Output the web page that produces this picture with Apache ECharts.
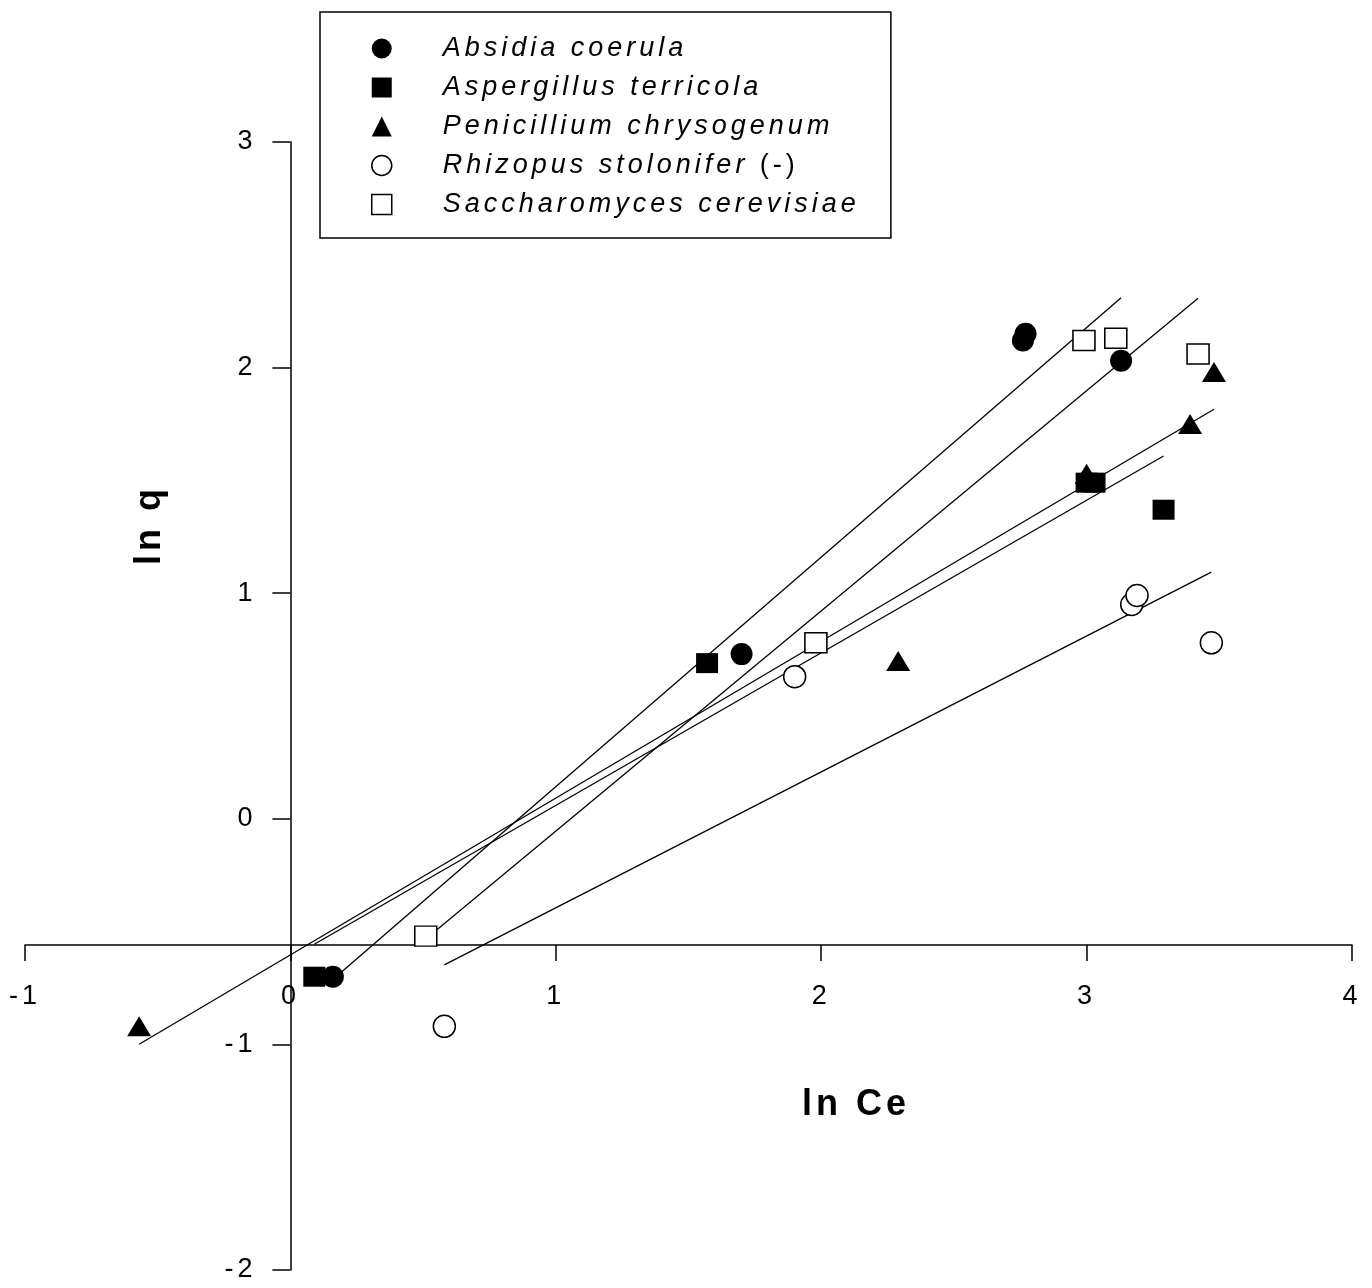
<!DOCTYPE html>
<html>
<head>
<meta charset="utf-8">
<title>ln q vs ln Ce</title>
<script src="https://cdn.jsdelivr.net/npm/echarts@6.0.0/dist/echarts.min.js"></script>
<style>
  html, body { margin: 0; padding: 0; background: #fff; }
  #chart { width: 1372px; height: 1288px; }
</style>
</head>
<body>
<div id="chart"></div>
<script>
// ---- data: ln Ce (x) and ln q (y) for each organism ----
const speciesNames = [
  'Absidia coerula',
  'Aspergillus terricola',
  'Penicillium chrysogenum',
  'Rhizopus stolonifer (-)',
  'Saccharomyces cerevisiae'
];

const absidiaLnCe = [0.16, 1.70, 2.76, 2.77, 3.13];
const absidiaLnQ  = [-0.70, 0.73, 2.12, 2.15, 2.03];

const aspergillusLnCe = [0.09, 1.57, 3.00, 3.03, 3.29];
const aspergillusLnQ  = [-0.70, 0.69, 1.49, 1.49, 1.37];

const penicilliumLnCe = [-0.57, 2.29, 3.00, 3.39, 3.48];
const penicilliumLnQ  = [-0.92, 0.70, 1.53, 1.75, 1.98];

const rhizopusLnCe = [0.58, 1.90, 3.17, 3.19, 3.47];
const rhizopusLnQ  = [-0.92, 0.63, 0.95, 0.99, 0.78];

const saccharomycesLnCe = [0.51, 1.98, 2.99, 3.11, 3.42];
const saccharomycesLnQ  = [-0.52, 0.78, 2.12, 2.13, 2.06];

const xTicks = [-1, 0, 1, 2, 3, 4];
const yTicks = [-2, -1, 0, 1, 2, 3];

// ---- appearance ----
const FONT = "'Liberation Sans', Arial, Helvetica, sans-serif";
const TEXT_TRACKING = '4px';

// Wide tracking for every piece of chart text (applied whenever a font is set on a canvas).
(function () {
  if (!window.CanvasRenderingContext2D) return;
  const proto = CanvasRenderingContext2D.prototype;
  const fontDesc = Object.getOwnPropertyDescriptor(proto, 'font');
  if (!fontDesc || !('letterSpacing' in proto)) return;
  Object.defineProperty(proto, 'font', {
    configurable: true,
    enumerable: fontDesc.enumerable,
    get: function () { return fontDesc.get.call(this); },
    set: function (v) { fontDesc.set.call(this, v); this.letterSpacing = TEXT_TRACKING; }
  });
})();

// Least-squares line over the x-range of a data set
function fitSegment(xs, ys) {
  const n = xs.length;
  const mx = xs.reduce((a, b) => a + b, 0) / n;
  const my = ys.reduce((a, b) => a + b, 0) / n;
  let sxx = 0, sxy = 0;
  for (let i = 0; i < n; i++) {
    sxx += (xs[i] - mx) * (xs[i] - mx);
    sxy += (xs[i] - mx) * (ys[i] - my);
  }
  const slope = sxy / sxx;
  const icpt = my - slope * mx;
  const x0 = Math.min.apply(null, xs), x1 = Math.max.apply(null, xs);
  return [[x0, icpt + slope * x0], [x1, icpt + slope * x1]];
}

const groups = [
  { name: speciesNames[0], xs: absidiaLnCe, ys: absidiaLnQ, symbol: 'circle', size: 22, filled: true },
  { name: speciesNames[1], xs: aspergillusLnCe, ys: aspergillusLnQ, symbol: 'rect', size: [22, 20], filled: true },
  { name: speciesNames[2], xs: penicilliumLnCe, ys: penicilliumLnQ, symbol: 'triangle', size: [24, 20], filled: true },
  { name: speciesNames[3], xs: rhizopusLnCe, ys: rhizopusLnQ, symbol: 'circle', size: 22, filled: false },
  { name: speciesNames[4], xs: saccharomycesLnCe, ys: saccharomycesLnQ, symbol: 'rect', size: [22, 20], filled: false }
];

const filledStyle = { color: '#000', borderWidth: 0, opacity: 1 };
const hollowStyle = { color: '#fff', borderColor: '#000', borderWidth: 1.5, opacity: 1 };

const series = [];
groups.forEach(g => {
  series.push({
    type: 'line',
    name: g.name + ' fit',
    xAxisIndex: 0, yAxisIndex: 0,
    data: fitSegment(g.xs, g.ys),
    symbol: 'none',
    lineStyle: { color: '#000', width: 1.3 },
    silent: true,
    z: 2
  });
});
groups.forEach(g => {
  series.push({
    type: 'scatter',
    name: g.name,
    xAxisIndex: 0, yAxisIndex: 0,
    symbol: g.symbol,
    symbolSize: g.size,
    data: g.xs.map((x, i) => [x, g.ys[i]]),
    itemStyle: g.filled ? filledStyle : hollowStyle,
    emphasis: { disabled: true },
    z: 3
  });
});

const tickText = { color: '#000', fontSize: 27, fontFamily: FONT };
const axisStroke = { color: '#000', width: 1.5 };
const legendFont = { fontFamily: FONT, fontSize: 27, lineHeight: 27, color: '#000' };

// Plot frame: x from -1 to 4 over [25, 1352] px, y from -2 to 3 over [142, 1270] px.
const PLOT = { left: 25, right: 20, top: 142, bottom: 18 };
const X_AXIS_BOTTOM = 343;   // ln Ce axis drawn at ln q ≈ -0.55
const Y_AXIS_LEFT = PLOT.left + (1372 - PLOT.left - PLOT.right) / (xTicks[xTicks.length - 1] - xTicks[0]) * (0 - xTicks[0]);

const option = {
  animation: false,
  backgroundColor: '#fff',
  grid: [
    // data area
    Object.assign({ outerBoundsMode: 'none', containLabel: false }, PLOT),
    // strip whose lower edge carries the ln Ce axis
    { left: PLOT.left, right: PLOT.right, top: 925, bottom: X_AXIS_BOTTOM, outerBoundsMode: 'none', containLabel: false },
    // strip whose left edge carries the ln q axis (at ln Ce = 0)
    { left: Y_AXIS_LEFT, width: 10, top: PLOT.top, bottom: PLOT.bottom, outerBoundsMode: 'none', containLabel: false }
  ],
  xAxis: [
    { gridIndex: 0, type: 'value', min: xTicks[0], max: xTicks[xTicks.length - 1], show: false },
    {
      gridIndex: 1, type: 'value', position: 'bottom',
      min: xTicks[0], max: xTicks[xTicks.length - 1], interval: 1,
      axisLine: { onZero: false, lineStyle: axisStroke },
      axisTick: { inside: false, length: 16, lineStyle: axisStroke },
      axisLabel: Object.assign({ margin: 36 }, tickText),
      splitLine: { show: false }
    },
    { gridIndex: 2, type: 'value', min: 0, max: 1, show: false }
  ],
  yAxis: [
    { gridIndex: 0, type: 'value', min: yTicks[0], max: yTicks[yTicks.length - 1], show: false },
    { gridIndex: 1, type: 'value', min: 0, max: 1, show: false },
    {
      gridIndex: 2, type: 'value', position: 'left',
      min: yTicks[0], max: yTicks[yTicks.length - 1], interval: 1,
      axisLine: { onZero: false, lineStyle: axisStroke },
      axisTick: { inside: false, length: 18, lineStyle: axisStroke },
      axisLabel: Object.assign({ margin: 34 }, tickText),
      splitLine: { show: false }
    }
  ],
  legend: {
    orient: 'vertical',
    left: 320, top: 12,
    padding: [21, 31, 18, 51],
    itemWidth: 20, itemHeight: 20, itemGap: 8,
    borderColor: '#000', borderWidth: 1.5, borderRadius: 0,
    backgroundColor: '#fff',
    selectedMode: false,
    data: groups.map(g => ({ name: g.name, itemStyle: g.filled ? filledStyle : hollowStyle })),
    formatter: function (name) {
      const m = name.match(/^(.*) (\(-\))$/);
      return m ? '{i|' + m[1] + '} {n|' + m[2] + '}' : '{i|' + name + '}';
    },
    textStyle: Object.assign({
      padding: [0, 0, 0, 46],
      rich: {
        i: Object.assign({ fontStyle: 'italic' }, legendFont),
        n: Object.assign({ fontStyle: 'normal' }, legendFont)
      }
    }, legendFont)
  },
  graphic: [
    {
      type: 'text', x: 150, y: 525, rotation: Math.PI / 2,
      style: { text: 'ln q', fill: '#000', fontSize: 36, fontWeight: 'bold', fontFamily: FONT, align: 'center', verticalAlign: 'middle' }
    },
    {
      type: 'text', x: 856, y: 1105,
      style: { text: 'ln Ce', fill: '#000', fontSize: 36, fontWeight: 'bold', fontFamily: FONT, align: 'center', verticalAlign: 'middle' }
    }
  ],
  series: series
};

const chart = echarts.init(document.getElementById('chart'), null, { renderer: 'canvas' });
chart.setOption(option);
</script>
</body>
</html>
